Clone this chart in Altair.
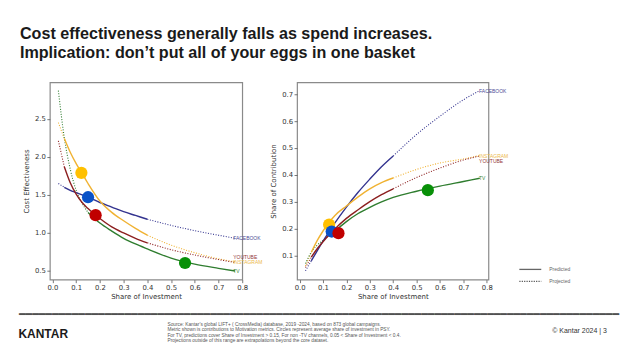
import altair as alt
import pandas as pd

# ---------------- data ----------------
channels = ["FACEBOOK", "INSTAGRAM", "YOUTUBE", "TV"]
share_inv = [0.025, 0.05, 0.075, 0.1, 0.125, 0.15, 0.2, 0.25, 0.3, 0.35, 0.4, 0.5, 0.6, 0.7, 0.77]

ce_facebook = [1.65, 1.60, 1.56, 1.53, 1.50, 1.47, 1.40, 1.34, 1.28, 1.23, 1.18, 1.10, 1.03, 0.97, 0.93]
ce_instagram = [2.45, 2.24, 2.06, 1.91, 1.78, 1.65, 1.42, 1.27, 1.16, 1.06, 0.97, 0.84, 0.74, 0.66, 0.62]
ce_youtube = [2.21, 1.87, 1.66, 1.51, 1.40, 1.32, 1.19, 1.08, 1.00, 0.93, 0.87, 0.78, 0.71, 0.65, 0.612]
ce_tv = [2.87, 2.25, 1.84, 1.56, 1.39, 1.27, 1.13, 1.025, 0.93, 0.855, 0.79, 0.67, 0.59, 0.535, 0.50]

soc_facebook = [0.043, 0.08, 0.117, 0.153, 0.187, 0.22, 0.28, 0.335, 0.384, 0.43, 0.47, 0.55, 0.618, 0.679, 0.713]
soc_instagram = [0.061, 0.112, 0.155, 0.191, 0.222, 0.248, 0.284, 0.318, 0.348, 0.371, 0.388, 0.42, 0.444, 0.459, 0.472]
soc_youtube = [0.055, 0.094, 0.125, 0.151, 0.175, 0.198, 0.238, 0.27, 0.30, 0.326, 0.348, 0.39, 0.425, 0.455, 0.47]
soc_tv = [0.07, 0.1125, 0.138, 0.156, 0.174, 0.19, 0.226, 0.256, 0.279, 0.299, 0.316, 0.339, 0.358, 0.375, 0.387]

# predicted (solid) range of share of investment per channel
pred_low = [0.05, 0.05, 0.05, 0.15]
pred_high = [0.4, 0.4, 0.4, 1.0]

circle_channels = ["INSTAGRAM", "FACEBOOK", "YOUTUBE", "TV"]
circle_ce_x = [0.122, 0.15, 0.182, 0.559]
circle_ce_y = [1.79, 1.47, 1.234, 0.605]
circle_soc_x = [0.126, 0.137, 0.166, 0.548]
circle_soc_y = [0.2145, 0.189, 0.183, 0.343]

label_ce_x = [0.762, 0.762, 0.762, 0.762]
label_ce_y = [0.93, 0.618, 0.679, 0.50]
label_soc_x = [0.767, 0.767, 0.767, 0.767]
label_soc_y = [0.712, 0.469, 0.451, 0.387]

x_ticks = [0.0, 0.1, 0.2, 0.3, 0.4, 0.5, 0.6, 0.7, 0.8]
ce_ticks = [0.5, 1.0, 1.5, 2.0, 2.5]
soc_ticks = [0.1, 0.2, 0.3, 0.4, 0.5, 0.6, 0.7]

title_lines = ["Cost effectiveness generally falls as spend increases.",
               "Implication: don\u2019t put all of your eggs in one basket"]
footnote_lines = [
    "Source: Kantar\u2019s global LIFT+ ( CrossMedia) database, 2019 -2024, based on 873 global campaigns.",
    "Metric shown is contributions to Motivation  metrics. Circles represent average share of investment in PSY.",
    "For TV, predictions cover Share of Investment > 0.15, For non  -TV channels, 0.05 < Share of Investment < 0.4.",
    "Projections outside of this range are extrapolations beyond the core dataset.",
]

# ---------------- tables ----------------
ce_all = [ce_facebook, ce_instagram, ce_youtube, ce_tv]
soc_all = [soc_facebook, soc_instagram, soc_youtube, soc_tv]
rows = []
for ci, ch in enumerate(channels):
    lo, hi = pred_low[ci], pred_high[ci]
    for i, x in enumerate(share_inv):
        parts = []
        if x <= lo:
            parts.append(("low", "dotted"))
        if lo <= x <= hi:
            parts.append(("mid", "solid"))
        if x >= hi:
            parts.append(("high", "dotted"))
        for part, style in parts:
            rows.append({"channel": ch, "x": x, "ce": ce_all[ci][i], "soc": soc_all[ci][i],
                         "part": ch + part, "style": style})
curves = pd.DataFrame(rows)

circles_ce = pd.DataFrame({"channel": circle_channels, "x": circle_ce_x, "y": circle_ce_y})
circles_soc = pd.DataFrame({"channel": circle_channels, "x": circle_soc_x, "y": circle_soc_y})
labels_ce = pd.DataFrame({"channel": channels, "x": label_ce_x, "y": label_ce_y})
labels_soc = pd.DataFrame({"channel": channels, "x": label_soc_x, "y": label_soc_y})
one = pd.DataFrame({"k": [0]})

line_colors = ["#33338f", "#f0b232", "#8c1f1f", "#2f7d2f"]
label_colors = ["#4a4a96", "#ecb84a", "#93393a", "#3d8a3d"]
dot_colors = ["#ffc000", "#0a52c8", "#c00000", "#089008"]

line_color = alt.Color("channel:N", scale=alt.Scale(domain=channels, range=line_colors), legend=None)
label_color = alt.Color("channel:N", scale=alt.Scale(domain=channels, range=label_colors), legend=None)
dot_color = alt.Color("channel:N", scale=alt.Scale(domain=circle_channels, range=dot_colors), legend=None)

AX = dict(domain=False, grid=False, tickSize=3, tickColor="#555", tickWidth=0.8,
          labelFontSize=6.9, labelColor="#333", labelFont="DejaVu Sans", labelPadding=1.5,
          titleFontSize=7, titleColor="#333", titleFont="DejaVu Sans", titleFontWeight="normal",
          labelFlush=False, labelOverlap=False, format=".1f")


def panel(ycol, ydomain, yticks, ytitle, xdomain, circ, labs, extra):
    xs = alt.Scale(domain=xdomain, nice=False, zero=False)
    ys = alt.Scale(domain=ydomain, nice=False, zero=False)
    xaxis = alt.Axis(values=x_ticks, title="Share of Investment", titlePadding=2, **AX)
    yaxis = alt.Axis(values=yticks, title=ytitle, titlePadding=5, **AX)

    def X(f):
        return alt.X(f, scale=xs, axis=xaxis)

    def Y(f):
        return alt.Y(f, scale=ys, axis=yaxis)

    dotted = alt.Chart(curves).transform_filter(alt.datum.style == "dotted").mark_line(
        strokeWidth=1.1, strokeDash=[1, 1.6], interpolate="monotone").encode(
        x=X("x:Q"), y=Y(ycol + ":Q"), color=line_color, detail="part:N")
    solid = alt.Chart(curves).transform_filter(alt.datum.style == "solid").mark_line(
        strokeWidth=1.4, interpolate="monotone").encode(
        x=X("x:Q"), y=Y(ycol + ":Q"), color=line_color, detail="part:N")
    dots = alt.Chart(circ).mark_circle(size=150, opacity=1).encode(
        x=X("x:Q"), y=Y("y:Q"), color=dot_color)
    texts = alt.Chart(labs).mark_text(align="left", baseline="middle", fontSize=5,
                                      font="Liberation Sans").encode(
        x=X("x:Q"), y=Y("y:Q"), text="channel:N", color=label_color)
    return alt.layer(*extra[0], dotted, solid, dots, texts, *extra[1]).resolve_scale(color="independent")


# decorations placed relative to the left plot origin (49, 81)
bg = alt.Chart(one).mark_rect(opacity=0).encode(
    x=alt.value(-49), x2=alt.value(575), y=alt.value(-81), y2=alt.value(270))
title = alt.Chart(one).mark_text(text=title_lines, x=-30, y=-43.5, align="left", baseline="alphabetic",
                                 fontSize=16.2, fontWeight="bold", font="Liberation Sans",
                                 lineHeight=19, color="#1a1a1a")
footer_line = alt.Chart(one).mark_text(text="\u2501" * 91, x=-31, y=236.1, align="left",
                                       baseline="alphabetic", fontSize=11, font="DejaVu Sans Mono",
                                       color="#505050")
kantar = alt.Chart(one).mark_text(text="KANTAR", x=-31.5, y=256.5, align="left", baseline="alphabetic",
                                  fontSize=12, fontWeight="bold", font="Liberation Sans", color="#1a1a1a")
footnote = alt.Chart(one).mark_text(text=footnote_lines, x=118, y=244, align="left", baseline="alphabetic",
                                    fontSize=4.8, lineHeight=5.6, font="Liberation Sans", color="#555")
copyright_ = alt.Chart(one).mark_text(text="\u00a9 Kantar 2024 |  3", x=504, y=250, align="left",
                                      baseline="middle", fontSize=7, font="Liberation Sans", color="#333")

# legend relative to the right plot origin (297, 81)
leg_solid = alt.Chart(one).mark_rule(color="#666", strokeWidth=1.3).encode(
    x=alt.value(223), x2=alt.value(245), y=alt.value(187.7))
leg_dot = alt.Chart(one).mark_rule(color="#555", strokeWidth=1.2, strokeDash=[1.2, 1.2]).encode(
    x=alt.value(223), x2=alt.value(245), y=alt.value(199.7))
leg_t1 = alt.Chart(one).mark_text(text="Predicted", x=253, y=187.7, align="left", baseline="middle",
                                  fontSize=5, font="Liberation Sans", color="#666")
leg_t2 = alt.Chart(one).mark_text(text="Projected", x=253, y=199.7, align="left", baseline="middle",
                                  fontSize=5, font="Liberation Sans", color="#666")

left = panel("ce", [0.386, 2.98], ce_ticks, "Cost Effectiveness", [-0.011, 0.8], circles_ce, labels_ce,
             ([bg], [title, footer_line, kantar, footnote, copyright_])
             ).properties(width=193, height=198)
right = panel("soc", [0.010, 0.744], soc_ticks, "Share of Contribution", [-0.011, 0.807], circles_soc,
              labels_soc, ([], [leg_solid, leg_dot, leg_t1, leg_t2])
              ).properties(width=192, height=198)

chart = alt.hconcat(left, right, spacing=55, bounds="flush").properties(
    padding={"left": 0, "top": 0, "right": 0, "bottom": 0}, background="white"
).configure_view(stroke="#8a8a8a", strokeWidth=1.2)

chart.save("out.html", embed_options={"renderer": "svg", "actions": False})
